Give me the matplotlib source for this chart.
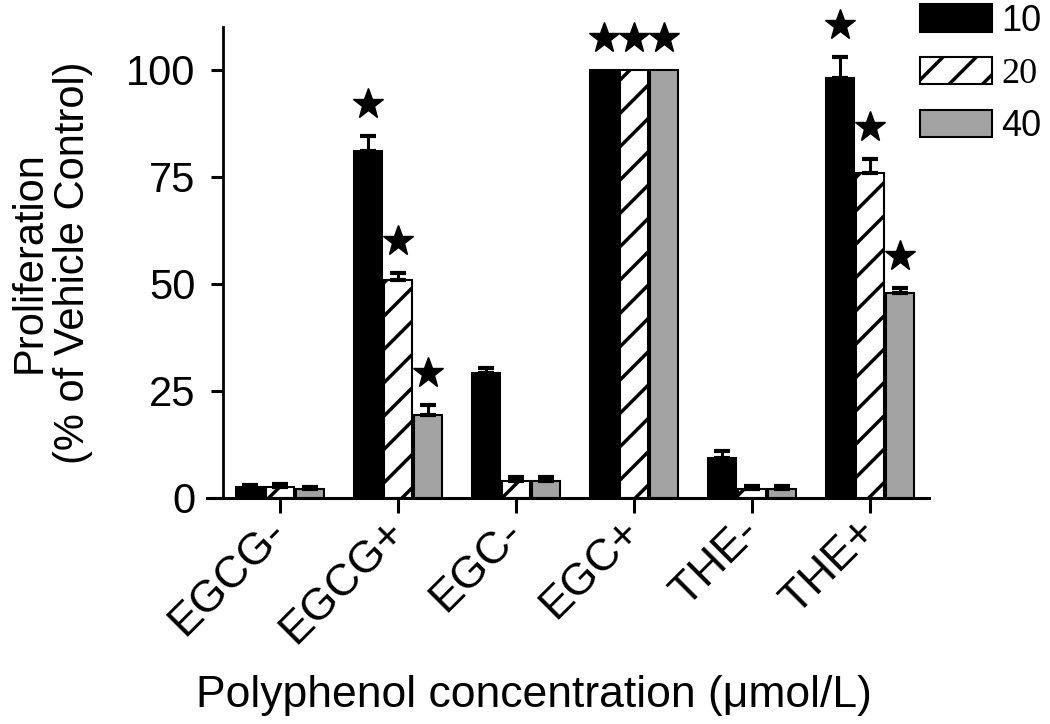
import numpy as np
import matplotlib
matplotlib.use('Agg')
import matplotlib.pyplot as plt

plt.rcParams['font.family'] = ['Liberation Sans', 'DejaVu Sans']
plt.rcParams['hatch.linewidth'] = 2.5

groups = ['EGCG-', 'EGCG+', 'EGC-', 'EGC+', 'THE-', 'THE+']
doses = ['10', '20', '40']

# proliferation (% of vehicle control), one list per dose
val_10 = [2.6, 81.0, 29.2, 100.0, 9.4, 98.1]
val_20 = [2.6, 51.0, 4.0, 100.0, 2.2, 75.9]
val_40 = [2.2, 19.3, 4.0, 100.0, 2.2, 47.9]
# upper error (SEM)
err_10 = [0.4, 3.6, 1.2, 0.0, 1.6, 4.9]
err_20 = [0.6, 1.6, 0.9, 0.0, 0.5, 3.3]
err_40 = [0.4, 2.5, 0.8, 0.0, 0.5, 1.2]
# significance stars
sig_10 = [False, True, False, True, False, True]
sig_20 = [False, True, False, True, False, True]
sig_40 = [False, True, False, True, False, True]

vals = [val_10, val_20, val_40]
errs = [err_10, err_20, err_40]
sigs = [sig_10, sig_20, sig_40]
faces = ['black', 'white', '#a3a3a3']
hatches = [None, '/', None]

x = np.arange(len(groups))
offs = [-0.254, 0.0, 0.254]
w = 0.235

fig = plt.figure(figsize=(10.5, 7.24), dpi=100)
ax = fig.add_axes([0.1971, 0.3122, 0.6876, 0.6505])

handles = []
for k in range(3):
    v = np.array(vals[k])
    e = np.array(errs[k])
    b = ax.bar(x + offs[k], v, w, color=faces[k], edgecolor='black',
               linewidth=1.5, hatch=hatches[k], label=doses[k], zorder=2)
    handles.append(b)
    m = e > 0
    ax.errorbar(x[m] + offs[k], v[m], yerr=[np.zeros(m.sum()), e[m]],
                fmt='none', ecolor='black', elinewidth=2.2, capsize=6,
                capthick=3, zorder=3)
    s = np.array(sigs[k])
    ax.plot(x[s] + offs[k], v[s] + e[s] + 7.5, ls='none', marker='*',
            color='black', markersize=23, zorder=4, clip_on=False)

ax.set_xlim(-0.619, 5.5)
ax.set_ylim(0, 110)
ax.set_yticks([0, 25, 50, 75, 100])
ax.set_xticks(x)
ax.set_xticklabels(groups, rotation=45, ha='right', rotation_mode='anchor',
                   va='center')
ax.spines['top'].set_visible(False)
ax.spines['right'].set_visible(False)
ax.spines['left'].set_position(('data', -0.483))
ax.spines['left'].set_linewidth(2)
ax.spines['bottom'].set_linewidth(2.2)
ax.tick_params(axis='y', labelsize=30, length=9, width=2.2, pad=11)
ax.tick_params(axis='x', labelsize=32, length=11, width=2.2, pad=9)

ax.set_ylabel('Proliferation\n(% of Vehicle Control)', fontsize=30,
              linespacing=1.1, labelpad=24)
ax.set_xlabel('Polyphenol concentration (\u03bcmol/L)', fontsize=32)
ax.xaxis.set_label_coords(0.453, -0.375)

leg = fig.legend(handles=handles, labels=doses, loc='upper left',
                 bbox_to_anchor=(0.876, 0.995), frameon=False, fontsize=26,
                 handlelength=2.0, handleheight=0.8, handletextpad=0.25,
                 labelspacing=0.5, borderpad=0, borderaxespad=0)
leg.get_texts()[1].set_family('Liberation Serif')

fig.savefig('out.png', dpi=100)
